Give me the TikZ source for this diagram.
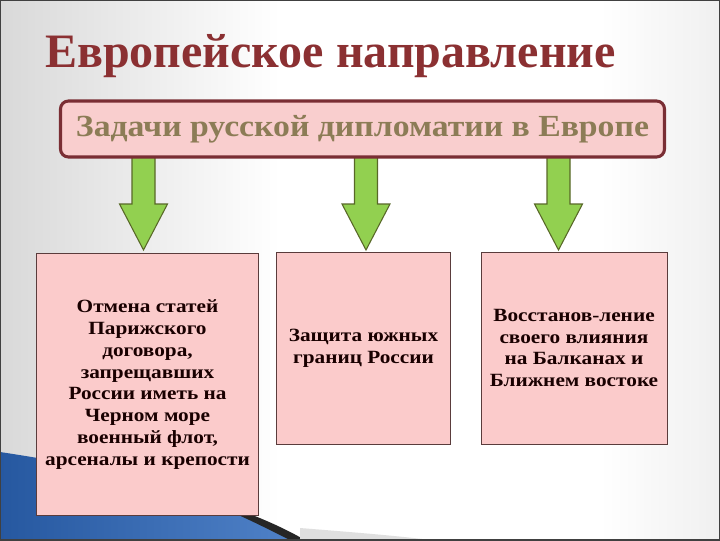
\documentclass[tikz,border=0pt]{standalone}
\usepackage{fontspec}
\setmainfont{Liberation Serif}
\newfontfamily\widefont{Liberation Serif}[FakeStretch=1.1]
\newfontfamily\aimfont{Liberation Serif}[FakeStretch=1.14]
\usepackage{tikz}
\usetikzlibrary{calc}
\definecolor{titlered}{RGB}{139,48,50}
\definecolor{taskborder}{RGB}{122,46,52}
\definecolor{taskfill}{RGB}{249,206,206}
\definecolor{tasktext}{RGB}{140,124,86}
\definecolor{boxfill}{RGB}{251,203,203}
\definecolor{boxline}{RGB}{90,60,60}
\definecolor{arrowgreen}{RGB}{146,208,80}
\definecolor{arrowline}{RGB}{88,104,40}
\definecolor{swoopblue}{RGB}{38,88,160}
\definecolor{swooplight}{RGB}{80,130,200}

\begin{document}
\begin{tikzpicture}[x=0.75pt,y=-0.75pt,
  task/.style={draw=taskborder,line width=2.3pt,fill=taskfill,rounded corners=6pt,
    minimum width=453pt,minimum height=42pt,text=tasktext,
    font=\widefont\fontsize{23}{26}\selectfont\bfseries},
  aim/.style={draw=boxline,line width=0.6pt,fill=boxfill,align=center,text=black!90!red,
    font=\aimfont\fontsize{14}{16.3}\selectfont\bfseries},
  downarrow/.style={draw=arrowline,line width=0.8pt,fill=arrowgreen,line join=miter}]
% slide background
\useasboundingbox (0,0) rectangle (720,540);
\fill[white] (0,0) rectangle (720,540);
\shade[left color=gray!30,right color=white] (0,0) rectangle (280,540);
\shade[left color=white,right color=gray!12] (600,0) rectangle (720,540);
\shade[left color=swoopblue,right color=swooplight] (0,452) .. controls (120,470) and (220,495) .. (300,540) -- (0,540) -- cycle;
\fill[black!85] (170,488) .. controls (230,505) and (270,520) .. (305,540) -- (290,540)
  .. controls (250,520) and (220,505) .. cycle;
\fill[gray!25] (300,528) .. controls (350,532) and (400,536) .. (430,540) -- (300,540) -- cycle;
\draw[black!75,line width=1.5pt] (0,0) rectangle (720,540);
% title
\node[anchor=base west,text=titlered,font=\fontsize{36}{40}\selectfont\bfseries,inner sep=0pt]
  (title) at (45,67) {Европейское направление};
% arrows (drawn first, the task box covers their tops)
\foreach \name/\ax in {arrowa/143.5,arrowb/366,arrowc/558.5}{
  \coordinate (\name) at (\ax,250);
  \draw[downarrow] ($(\name)+(-11.5,-93)$) -- ($(\name)+(-11.5,-46)$) -- ($(\name)+(-24,-46)$)
    -- (\name) -- ($(\name)+(24,-46)$) -- ($(\name)+(11.5,-46)$) -- ($(\name)+(11.5,-93)$) -- cycle;
}
% task box
\node[task] (task) at (362.5,129) {Задачи русской дипломатии в Европе};
% three aims
\node[aim,minimum width=167pt,minimum height=197pt] (aimone) at (147.5,384.5)
  {Отмена статей\\Парижского\\договора,\\запрещавших\\России иметь на\\Черном море\\военный флот,\\арсеналы и крепости};
\node[aim,minimum width=131pt,minimum height=144pt] (aimtwo) at (363.5,348)
  {Защита южных\\границ России};
\node[aim,minimum width=139.5pt,minimum height=144pt] (aimthree) at (574,348)
  {Восстанов-ление\\своего влияния\\на Балканах и\\Ближнем востоке};
\end{tikzpicture}
\end{document}
